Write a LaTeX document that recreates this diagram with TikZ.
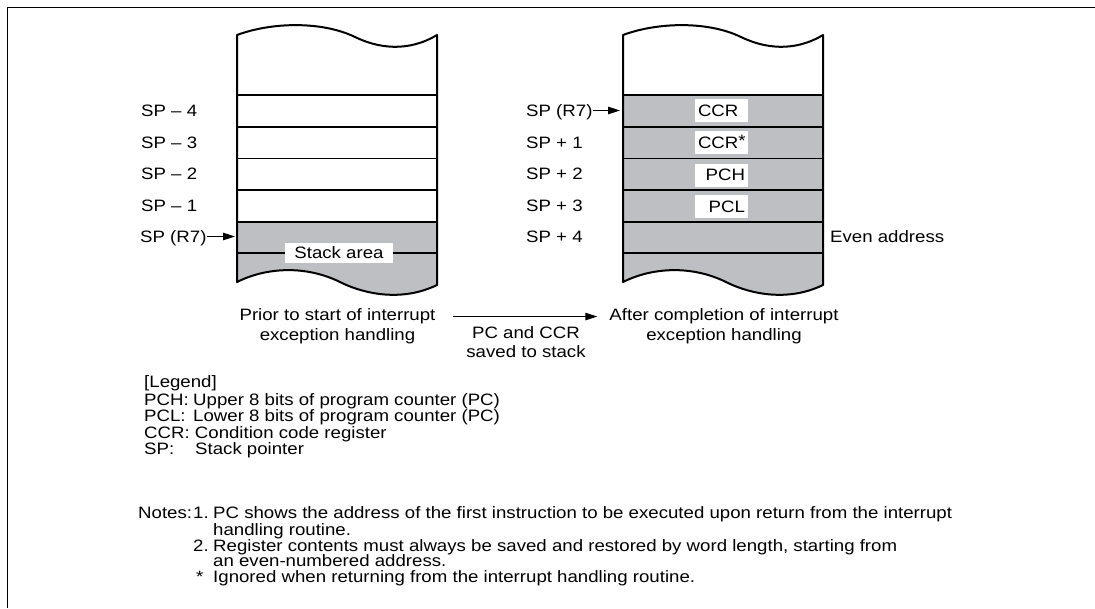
\documentclass[tikz,border=0pt]{standalone}
\usepackage{fontspec}
\setmainfont{Liberation Sans}[FakeStretch=1.13]
\usetikzlibrary{arrows.meta}
\definecolor{stackgray}{RGB}{190,191,195}
\begin{document}
\begin{tikzpicture}[x=1pt,y=-1pt,
  every node/.style={font=\fontsize{16.5}{17}\selectfont, inner sep=0pt},
  lbl/.style={anchor=base west},
  captext/.style={anchor=base},
  stackedge/.style={line width=2pt, line join=round},
  rowline/.style={line width=1.2pt},
  ptr/.style={line width=1pt, -{Triangle[length=12pt,width=7.5pt]}},
  regbox/.style={fill=white, inner xsep=3pt, inner ysep=0pt, minimum height=23pt, text width=47pt},
  memstack/.pic={
    \fill[stackgray] (0,#1) -- (0,282) .. controls (30,267) and (70,265) .. (105,283)
      .. controls (128,294) and (165,302) .. (200,285) -- (200,#1) -- cycle;
    \foreach \yy in {95,127,158.5,190,222,253} \draw[rowline] (0,\yy) -- (200,\yy);
    \draw[stackedge] (0,35) .. controls (35,22) and (85,21) .. (118,37)
      .. controls (140,47.7) and (170,53) .. (200,35) -- (200,285)
      .. controls (165,302) and (128,294) .. (105,283)
      .. controls (70,265) and (30,267) .. (0,282) -- cycle;
  },
]
\useasboundingbox (0,0) rectangle (1095,608);
\draw[line width=1.8pt] (1095,7.5) -- (7.5,7.5) -- (7.5,608);

% stacks
\pic (lstack) at (237,0) {memstack=222};
\pic (rstack) at (623,0) {memstack=95};

% left labels
\node[lbl] (lm4) at (141,116.8) {SP – 4};
\node[lbl] (lm3) at (141,148.3) {SP – 3};
\node[lbl] (lm2) at (141,179.8) {SP – 2};
\node[lbl] (lm1) at (141,211.3) {SP – 1};
\node[lbl] (lsp) at (140,242.8) {SP (R7)};
\coordinate (lstk) at (235,236.5);
\draw[ptr] (lsp.east |- lstk) -- (lstk);
\node[fill=white, minimum width=108pt, minimum height=20pt] (sa) at (339,253) {Stack area};

% right labels
\node[lbl] (rsp) at (526,116.8) {SP (R7)};
\node[lbl] (rp1) at (526,148.3) {SP + 1};
\node[lbl] (rp2) at (526,179.8) {SP + 2};
\node[lbl] (rp3) at (526,211.3) {SP + 3};
\node[lbl] (rp4) at (526,242.8) {SP + 4};
\coordinate (rstk) at (620,110.5);
\draw[ptr] (rsp.east |- rstk) -- (rstk);
\node[lbl] (even) at (830,242.8) {Even address};

\node[regbox, align=left] (ccr) at (721.5,110.5) {CCR};
\node[regbox, align=left] (ccrs) at (721.5,142) {CCR\raisebox{2pt}{*}};
\node[regbox, align=right] (pch) at (721.5,175) {PCH};
\node[regbox, align=right] (pcl) at (721.5,206.5) {PCL};

% captions
\node[captext] (lc1) at (337.5,320.8) {Prior to start of interrupt};
\node[captext] (lc2) at (337.5,340.8) {exception handling};
\node[captext] (rc1) at (724,320.8) {After completion of interrupt};
\node[captext] (rc2) at (724,340.8) {exception handling};
\node[captext] (mc1) at (526,338.8) {PC and CCR};
\node[captext] (mc2) at (526,357.8) {saved to stack};
\draw[ptr, shorten <=17pt, shorten >=12pt] (lc1.east) -- (rc1.west);

% legend
\node[lbl] (lg) at (144,387.5) {[Legend]};
\node[lbl] (lg1a) at (144,405.8) {PCH:};
\node[lbl] (lg1b) at (193,405.8) {Upper 8 bits of program counter (PC)};
\node[lbl] (lg2a) at (144,421.8) {PCL:};
\node[lbl] (lg2b) at (193,421.8) {Lower 8 bits of program counter (PC)};
\node[lbl] (lg3) at (144,438.8) {CCR: Condition code register};
\node[lbl] (lg4a) at (144,454.8) {SP:};
\node[lbl] (lg4b) at (195,454.8) {Stack pointer};

% notes
\node[lbl] (n0) at (138,518.8) {Notes:};
\node[lbl] (n1) at (193,518.8) {1.};
\node[lbl] (n1a) at (213,518.8) {PC shows the address of the first instruction to be executed upon return from the interrupt};
\node[lbl] (n1b) at (213,535.8) {handling routine.};
\node[lbl] (n2) at (193,551.8) {2.};
\node[lbl] (n2a) at (213,551.8) {Register contents must always be saved and restored by word length, starting from};
\node[lbl] (n2b) at (213,566.8) {an even-numbered address.};
\node[lbl] (n3) at (196,582.8) {*};
\node[lbl] (n3a) at (213,582.8) {Ignored when returning from the interrupt handling routine.};
\end{tikzpicture}
\end{document}
